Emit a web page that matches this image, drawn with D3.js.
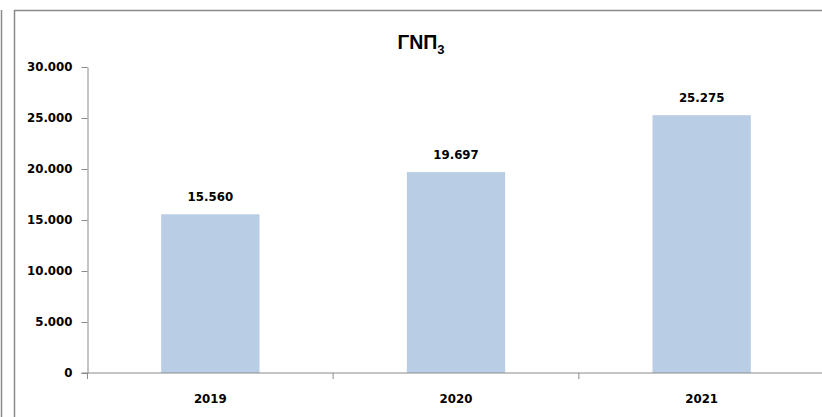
<!DOCTYPE html>
<html>
<head>
<meta charset="utf-8">
<script src="https://cdn.jsdelivr.net/npm/d3@7"></script>
<style>
  html, body { margin: 0; padding: 0; background: #fff; }
  svg { display: block; }
</style>
</head>
<body>
<svg id="chart" width="822" height="417"></svg>
<script>
// GNP series, in the source's thousands-dot format
const years = ["2019", "2020", "2021"];
const gnp = [15560, 19697, 25275];
const yTicks = [0, 5000, 10000, 15000, 20000, 25000, 30000];
const chartTitle = "ΓΝΠ";
const titleSub = "3";

const W = 822, H = 417;
const plot = { left: 87.5, right: 824.5, top: 67, bottom: 373 };
const font = "'DejaVu Sans', sans-serif";
const fs = 11.8;

const svg = d3.select("#chart");
const fmt = v => d3.format(",")(v).replace(/,/g, ".");

// frame lines
svg.append("line").attr("x1", 1.5).attr("x2", 1.5).attr("y1", 10).attr("y2", H)
  .attr("stroke", "#8a8a8a").attr("stroke-width", 1.5);
svg.append("path").attr("d", `M14.5,${H} V10.5 H${W}`)
  .attr("fill", "none").attr("stroke", "#8a8a8a").attr("stroke-width", 1.5);

const x = d3.scaleBand().domain(years).range([plot.left, plot.right])
  .paddingInner(0.6).paddingOuter(0.3);
const xAxisScale = d3.scaleBand().domain(years).range([plot.left, plot.right]);
const y = d3.scaleLinear().domain([0, 30000]).range([plot.bottom, plot.top]);

// bars
svg.append("g").selectAll("rect").data(gnp).join("rect")
  .attr("x", (d, i) => x(years[i]))
  .attr("width", x.bandwidth())
  .attr("y", d => y(d))
  .attr("height", d => y(0) - y(d))
  .attr("fill", "#b9cde5");

// y axis
const yAxis = svg.append("g").attr("transform", `translate(${plot.left},0)`)
  .call(d3.axisLeft(y).tickValues(yTicks).tickFormat(fmt).tickSizeInner(6).tickSizeOuter(0).tickPadding(9));
yAxis.select(".domain").attr("stroke", "#8a8a8a");
yAxis.selectAll(".tick line").attr("stroke", "#8a8a8a");
yAxis.selectAll("text").attr("font-family", font).attr("font-weight", "bold")
  .attr("font-size", fs).attr("fill", "#000");

// x axis with ticks between categories
const xg = svg.append("g").attr("transform", `translate(0,${plot.bottom})`);
xg.append("line").attr("x1", plot.left - 6).attr("x2", W).attr("y1", 0).attr("y2", 0)
  .attr("stroke", "#8a8a8a");
const bounds = years.map(c => xAxisScale(c)).concat([plot.right]);
xg.selectAll("line.cat").data(bounds).join("line").attr("class", "cat")
  .attr("x1", d => d).attr("x2", d => d).attr("y1", 0).attr("y2", 6)
  .attr("stroke", "#8a8a8a");
xg.selectAll("text").data(years).join("text")
  .attr("x", d => xAxisScale(d) + xAxisScale.bandwidth() / 2)
  .attr("y", 29.5)
  .attr("text-anchor", "middle")
  .attr("font-family", font).attr("font-weight", "bold").attr("font-size", fs)
  .text(d => d);

// value labels
svg.append("g").selectAll("text").data(gnp).join("text")
  .attr("x", (d, i) => x(years[i]) + x.bandwidth() / 2)
  .attr("y", d => y(d) - 13)
  .attr("text-anchor", "middle")
  .attr("font-family", font).attr("font-weight", "bold").attr("font-size", fs)
  .text(fmt);

// title
const t = svg.append("text").attr("x", 421).attr("y", 49).attr("text-anchor", "middle")
  .attr("font-family", "'Liberation Sans', Arial, sans-serif").attr("font-weight", "bold")
  .attr("font-size", 19.5);
t.append("tspan").text(chartTitle);
t.append("tspan").attr("font-size", 13).attr("dy", 5).text(titleSub);
</script>
</body>
</html>
